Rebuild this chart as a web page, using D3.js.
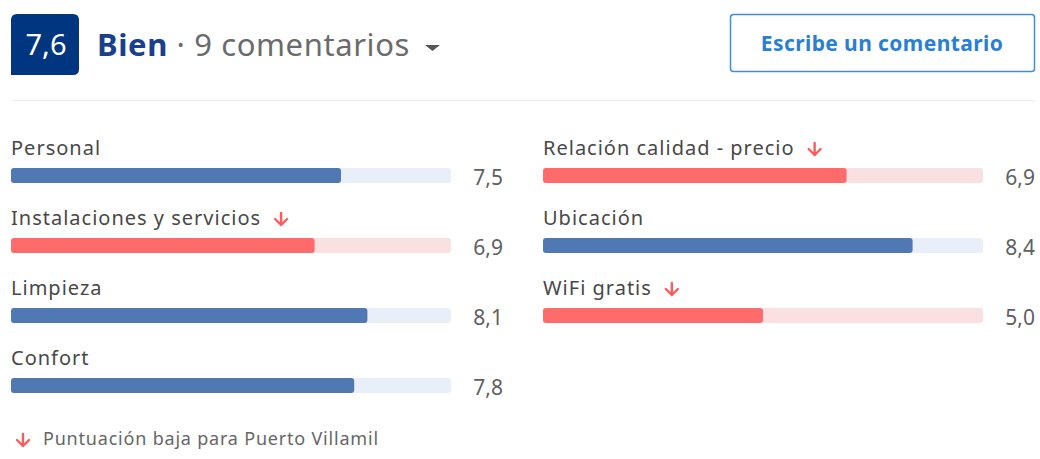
<!DOCTYPE html>
<html>
<head>
<meta charset="utf-8">
<script src="https://cdn.jsdelivr.net/npm/d3@7"></script>
<style>
  body { margin: 0; background: #fff; }
  text { font-family: "Noto Sans", "Open Sans", sans-serif; }
</style>
</head>
<body>
<svg id="chart" width="1040" height="459"></svg>
<script>
// scores per category
const leftCategories = ["Personal", "Instalaciones y servicios", "Limpieza", "Confort"];
const leftValues = [7.5, 6.9, 8.1, 7.8];
const leftLow = [false, true, false, false];

const rightCategories = ["Relación calidad - precio", "Ubicación", "WiFi gratis"];
const rightValues = [6.9, 8.4, 5.0];
const rightLow = [true, false, true];

const overallScore = 7.6;
const overallLabel = "Bien";
const reviewCount = 9;

const svg = d3.select("#chart");
const fmt = v => d3.format(".1f")(v).replace(".", ",");

// header: score badge
svg.append("path")
    .attr("d", "M11,75 L11,20 Q11,14 17,14 L73,14 Q79,14 79,20 L79,69 Q79,75 73,75 Z")
    .attr("fill", "#003580");
svg.append("text")
    .attr("x", 46).attr("y", 55)
    .attr("text-anchor", "middle")
    .attr("fill", "#fff")
    .attr("font-size", 29)
    .text(fmt(overallScore));

const title = svg.append("text")
    .attr("x", 97).attr("y", 56)
    .attr("font-size", 31)
    .attr("letter-spacing", 0.6);
title.append("tspan").attr("fill", "#1a3f8c").attr("font-weight", "bold").text(overallLabel);
title.append("tspan").attr("fill", "#6b6b6b").text(" · " + reviewCount + " comentarios");

// caret
svg.append("path")
    .attr("d", "M425,45 L440,45 L432.5,51 Z")
    .attr("fill", "#555");

// button
svg.append("rect")
    .attr("x", 730.5).attr("y", 14.5)
    .attr("width", 304).attr("height", 57)
    .attr("rx", 3)
    .attr("fill", "#fff")
    .attr("stroke", "#3b8fd9")
    .attr("stroke-width", 1.5);
svg.append("text")
    .attr("x", 882).attr("y", 51)
    .attr("text-anchor", "middle")
    .attr("fill", "#2a7fd0")
    .attr("font-weight", "bold")
    .attr("font-size", 21)
    .attr("letter-spacing", 0.4)
    .text("Escribe un comentario");

// separator
svg.append("line")
    .attr("x1", 11).attr("x2", 1035)
    .attr("y1", 100.5).attr("y2", 100.5)
    .attr("stroke", "#ececec");

// small red "low score" arrow
function arrow(g, cx, y) {
    g.append("path")
        .attr("d", `M${cx},${y} L${cx},${y + 12} M${cx - 6},${y + 6} L${cx},${y + 12} L${cx + 6},${y + 6}`)
        .attr("fill", "none")
        .attr("stroke", "#ff5a5a")
        .attr("stroke-width", 2.4)
        .attr("stroke-linecap", "round")
        .attr("stroke-linejoin", "round");
}

function drawColumn(x0, cats, vals, lows) {
    const x = d3.scaleLinear().domain([0, 10]).range([x0, x0 + 440]);
    const y = d3.scaleBand().domain(cats).range([120, 120 + 70 * cats.length]);

    const rows = svg.append("g").selectAll("g")
        .data(cats.map((c, i) => ({ cat: c, val: vals[i], low: lows[i] })))
        .enter().append("g")
        .attr("transform", d => `translate(0,${y(d.cat)})`);

    const label = rows.append("text")
        .attr("x", x0).attr("y", 35)
        .attr("font-size", 20)
        .attr("letter-spacing", 1)
        .attr("fill", "#484848")
        .text(d => d.cat);

    label.each(function (d) {
        if (d.low) {
            const w = this.getComputedTextLength();
            arrow(d3.select(this.parentNode), x0 + w + 20, 23);
        }
    });

    // track
    rows.append("rect")
        .attr("x", x(0)).attr("y", 48)
        .attr("width", x(10) - x(0)).attr("height", 15)
        .attr("rx", 3)
        .attr("fill", d => d.low ? "#fae0e1" : "#e8eff9");

    // value bar
    rows.append("rect")
        .attr("x", x(0)).attr("y", 48)
        .attr("width", d => x(d.val) - x(0)).attr("height", 15)
        .attr("rx", 3)
        .attr("fill", d => d.low ? "#ff6b6b" : "#5079b3");

    rows.append("text")
        .attr("x", x(10) + 52).attr("y", 65)
        .attr("text-anchor", "end")
        .attr("font-size", 21)
        .attr("fill", "#606060")
        .text(d => fmt(d.val));
}

drawColumn(11, leftCategories, leftValues, leftLow);
drawColumn(543, rightCategories, rightValues, rightLow);

// footer note
arrow(svg, 23, 434);
svg.append("text")
    .attr("x", 43).attr("y", 445)
    .attr("font-size", 18)
    .attr("letter-spacing", 0.8)
    .attr("fill", "#666")
    .text("Puntuación baja para Puerto Villamil");
</script>
</body>
</html>
